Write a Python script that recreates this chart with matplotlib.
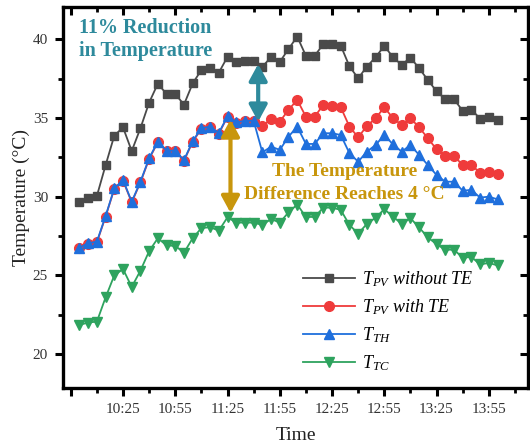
import matplotlib
matplotlib.use("Agg")
import matplotlib.pyplot as plt
from matplotlib.ticker import FixedLocator, MultipleLocator

plt.rcParams['font.family'] = ['Liberation Serif', 'DejaVu Serif']
plt.rcParams['mathtext.fontset'] = 'custom'
plt.rcParams['mathtext.rm'] = 'Liberation Serif'
plt.rcParams['mathtext.it'] = 'Liberation Serif:italic'

# minutes after 10:00, every 5 min up to 14:00
minutes = list(range(0, 245, 5))

t_pv_without = [29.65, 29.92, 30.05, 32.0, 33.88, 34.4, 32.9, 34.35, 35.98, 37.18,
                36.52, 36.52, 35.85, 37.2, 38.05, 38.16, 37.88, 38.89, 38.58, 38.64,
                38.64, 38.26, 38.86, 38.56, 39.38, 40.17, 38.95, 38.95, 39.69, 39.69,
                39.6, 38.28, 37.52, 38.26, 38.86, 39.58, 38.86, 38.37, 38.84, 38.16,
                37.41, 36.7, 36.19, 36.19, 35.46, 35.53, 34.96, 35.08, 34.87]

t_th = [26.76, 27.04, 27.14, 28.77, 30.53, 31.06, 29.68, 30.95, 32.44, 33.50,
        32.92, 32.92, 32.32, 33.53, 34.35, 34.45, 34.05, 35.11, 34.72, 34.82,
        34.82, 32.81, 33.18, 32.97, 33.81, 34.45, 33.35, 33.35, 34.03, 34.03,
        33.92, 32.76, 32.22, 32.86, 33.28, 33.92, 33.32, 32.86, 33.28, 32.65,
        32.01, 31.38, 30.95, 30.95, 30.38, 30.43, 29.94, 30.0, 29.83]

t_pv_with = [26.72, 27.0, 27.1, 28.73, 30.5, 31.02, 29.64, 30.91, 32.4, 33.46,
             32.88, 32.88, 32.28, 33.49, 34.31, 34.41, 34.01, 35.07, 34.68, 34.8,
             34.8, 34.49, 34.94, 34.77, 35.51, 36.15, 35.08, 35.08, 35.83, 35.78,
             35.68, 34.45, 33.77, 34.49, 34.98, 35.68, 34.98, 34.56, 34.98, 34.41,
             33.71, 33.01, 32.59, 32.59, 32.01, 32.01, 31.52, 31.59, 31.44]

t_tc = [21.85, 22.0, 22.06, 23.6, 25.0, 25.4, 24.26, 25.3, 26.54, 27.36,
        26.9, 26.87, 26.44, 27.36, 28.0, 28.06, 27.84, 28.69, 28.35, 28.35,
        28.35, 28.2, 28.58, 28.35, 29.0, 29.5, 28.71, 28.71, 29.3, 29.3,
        29.16, 28.2, 27.65, 28.27, 28.66, 29.2, 28.73, 28.27, 28.63, 28.04,
        27.41, 26.98, 26.63, 26.63, 26.12, 26.17, 25.69, 25.79, 25.63]

labels = [r'$T_{PV}$ without TE', r'$T_{PV}$ with TE', r'$T_{TH}$', r'$T_{TC}$']
colors = ['#4a4a4a', '#ef3b3b', '#1f6fdc', '#2ea35e']

xtick_pos = [-5, 25, 55, 85, 115, 145, 175, 205, 235]
xtick_labels = ['', '10:25', '10:55', '11:25', '11:55', '12:25', '12:55', '13:25', '13:55']

fig = plt.figure(figsize=(5.30, 4.44), dpi=100)
ax = fig.add_axes([0.1194, 0.1268, 0.8768, 0.8581])

ax.plot(minutes, t_pv_without, '-s', color=colors[0], ms=6.2, lw=1.3, label=labels[0])
ax.plot(minutes, t_pv_with, '-o', color=colors[1], ms=7, lw=1.3, label=labels[1])
ax.plot(minutes, t_th, '-^', color=colors[2], ms=7.4, lw=1.3, label=labels[2])
ax.plot(minutes, t_tc, '-v', color=colors[3], ms=7.4, lw=1.3, label=labels[3])

ax.set_xlim(-9.3, 257.5)
ax.set_ylim(17.86, 42.07)

ax.xaxis.set_major_locator(FixedLocator(xtick_pos))
ax.set_xticklabels(xtick_labels)
ax.xaxis.set_minor_locator(MultipleLocator(15, offset=10))
ax.yaxis.set_major_locator(MultipleLocator(5))
ax.yaxis.set_minor_locator(MultipleLocator(2.5))

for s in ax.spines.values():
    s.set_linewidth(2.4)
    s.set_color('black')

ax.tick_params(which='major', axis='both', length=6, width=2.2, labelsize=11,
               labelcolor='#333333', pad=5)
ax.tick_params(which='minor', axis='both', length=3.5, width=2.0)
ax.tick_params(which='both', direction='out', bottom=True, left=True)
ax.tick_params(which='both', top=True, right=True, labeltop=False, labelright=False)
# top and right ticks point inward
for tick in ax.xaxis.get_major_ticks() + ax.xaxis.get_minor_ticks():
    tick.tick2line.set_marker(3)
for tick in ax.yaxis.get_major_ticks() + ax.yaxis.get_minor_ticks():
    tick.tick2line.set_marker(0)

ax.set_ylabel('Temperature (°C)', fontsize=14, color='#222222')
ax.set_xlabel('Time', fontsize=14, color='#222222')
ax.yaxis.set_label_coords(-0.072, 0.5)
ax.xaxis.set_label_coords(0.5, -0.103)

leg = ax.legend(loc='lower left', bbox_to_anchor=(0.50, 0.02), frameon=False,
                prop={'family': 'Liberation Serif', 'style': 'italic', 'size': 13},
                handlelength=2.9, handletextpad=0.35, labelspacing=0.45,
                borderaxespad=0)

teal = '#2e8a9c'
gold = '#c8960c'
astyle = '<|-|>,head_length=0.55,head_width=0.3'
ax.annotate('', xy=(102.6, 34.77), xytext=(102.6, 38.43),
            arrowprops=dict(arrowstyle=astyle, color=teal, lw=3, mutation_scale=18,
                            shrinkA=0, shrinkB=0))
ax.annotate('', xy=(86.7, 28.97), xytext=(86.7, 34.9),
            arrowprops=dict(arrowstyle=astyle, color=gold, lw=3, mutation_scale=18,
                            shrinkA=0, shrinkB=0))

ax.text(-0.3, 39.98, '11% Reduction\nin Temperature', color=teal, fontsize=14.5,
        fontweight='bold', ha='left', va='center', linespacing=1.24)
ax.text(152.3, 30.87, 'The Temperature\nDifference Reaches 4 °C', color=gold,
        fontsize=14, fontweight='bold', ha='center', va='center',
        multialignment='center', linespacing=1.42)

fig.savefig('out.png', dpi=100)
